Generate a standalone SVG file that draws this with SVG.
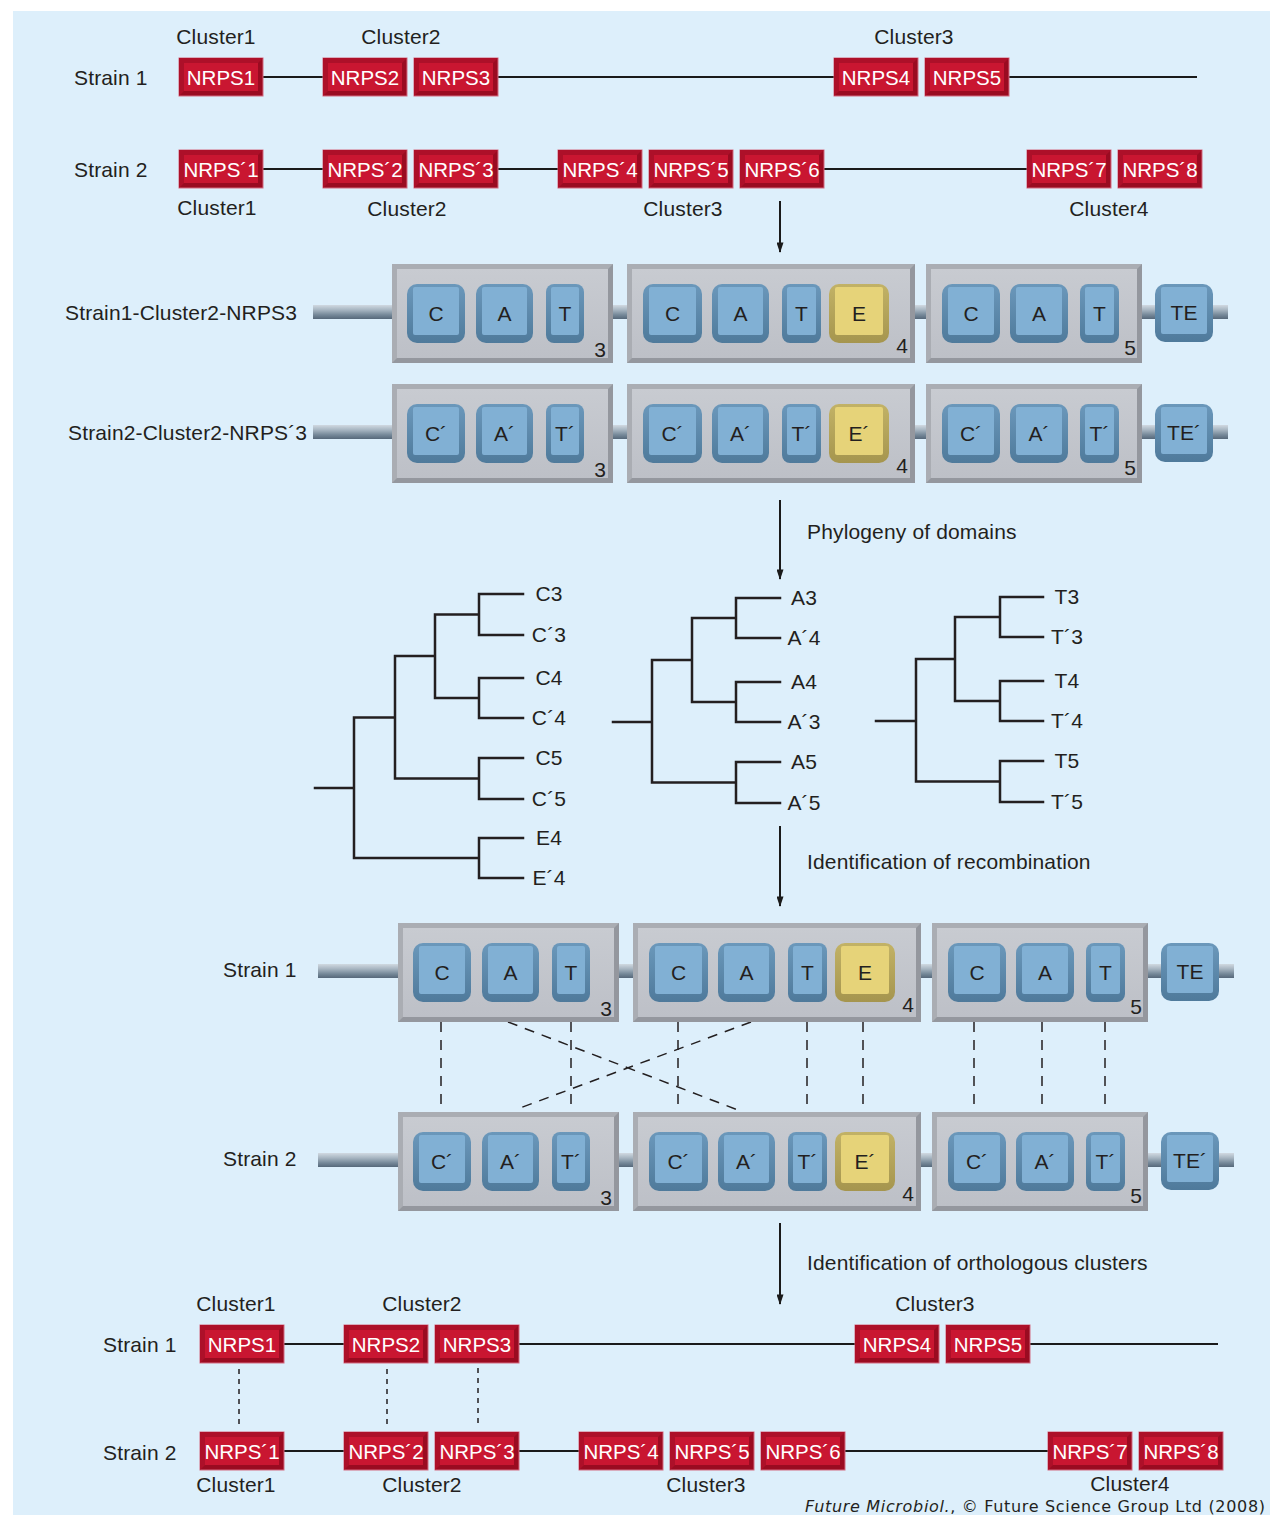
<svg xmlns="http://www.w3.org/2000/svg" width="1277" height="1515" viewBox="0 0 1277 1515">
<defs>
<style>
.lbl{font-family:"Liberation Sans",Arial,sans-serif;font-size:21px;letter-spacing:0.15px;fill:#231f20}
.mid{text-anchor:middle}
.nt{font-family:"Liberation Sans",Arial,sans-serif;font-size:20.5px;fill:#fff;text-anchor:middle}
.dt{font-family:"Liberation Sans",Arial,sans-serif;font-size:21px;fill:#231f20;text-anchor:middle}
.nb{fill:#9a0b21;stroke:#d46a80;stroke-width:1}
.nl{fill:#ad1029}
.nf{fill:#c91631}
.ln{stroke:#1a1a1a;stroke-width:2;fill:none}
.tree{stroke:#231f20;stroke-width:2.5;fill:none;stroke-linecap:square}
.dash{stroke:#231f20;stroke-width:1.5;stroke-dasharray:10 8;fill:none}
.dot{stroke:#231f20;stroke-width:1.5;stroke-dasharray:5 5;fill:none}
.arr{stroke:#1a1a1a;stroke-width:2;fill:none}
.rod{fill:url(#rodg)}
.mb{fill:#94979e}
.mh{fill:#aaadb3}
.mf{fill:url(#faceg)}
.do{fill:url(#blueg)}
.di{fill:#81b0d4}
.eo{fill:url(#yelg)}
.ei{fill:#e6d379}
</style>
<linearGradient id="rodg" x1="0" y1="0" x2="0" y2="1">
<stop offset="0" stop-color="#d0d9e1"/>
<stop offset="0.35" stop-color="#a7b5c1"/>
<stop offset="0.7" stop-color="#768999"/>
<stop offset="1" stop-color="#56687a"/>
</linearGradient>
<linearGradient id="faceg" x1="0" y1="0" x2="0" y2="1">
<stop offset="0" stop-color="#c8cbd1"/>
<stop offset="1" stop-color="#bdc0c7"/>
</linearGradient>
<linearGradient id="blueg" x1="0" y1="0" x2="0" y2="1">
<stop offset="0" stop-color="#6b98bb"/>
<stop offset="1" stop-color="#4f7a9b"/>
</linearGradient>
<linearGradient id="yelg" x1="0" y1="0" x2="0" y2="1">
<stop offset="0" stop-color="#c2b266"/>
<stop offset="1" stop-color="#a5954e"/>
</linearGradient>
<marker id="ah" viewBox="0 0 12 8" refX="11" refY="4" markerWidth="12" markerHeight="7" markerUnits="userSpaceOnUse" orient="auto">
<path d="M0,0L12,4L0,8z" fill="#1a1a1a"/>
</marker>
</defs>

<rect x="0" y="0" width="1277" height="1515" fill="#ffffff"/>
<rect x="13" y="11" width="1257" height="1504" fill="#ddeffb"/>

<!-- connectors -->
<g id="connectors">
<path class="ln" d="M263,77H323M498,77H834M1009,77H1197"/>
<path class="ln" d="M263,169H323M498,169H558M824,169H1027"/>
<path class="ln" d="M284,1344H344M519,1344H855M1030,1344H1218"/>
<path class="ln" d="M284,1451H344M519,1451H579M845,1451H1048"/>
<path class="arr" d="M780,201V252" marker-end="url(#ah)"/>
<path class="arr" d="M780,500V579" marker-end="url(#ah)"/>
<path class="arr" d="M780,826V906" marker-end="url(#ah)"/>
<path class="arr" d="M780,1223V1304" marker-end="url(#ah)"/>
<path class="dash" d="M441,1022V1112M571,1022V1112M678,1022V1112M807,1022V1112M863,1022V1112M974,1022V1112M1042,1022V1112M1105,1022V1112"/>
<path class="dash" d="M508,1022L738,1110M751,1022L520,1108"/>
<path class="dot" d="M239,1369V1427M387,1369V1427M478,1368V1425"/>
</g>

<!-- top texts -->
<g id="top-labels">
<text class="lbl" x="74" y="85">Strain 1</text>
<text class="lbl" x="74" y="177">Strain 2</text>
<text class="lbl mid" x="216" y="44">Cluster1</text>
<text class="lbl mid" x="401" y="44">Cluster2</text>
<text class="lbl mid" x="914" y="44">Cluster3</text>
<text class="lbl mid" x="217" y="215">Cluster1</text>
<text class="lbl mid" x="407" y="216">Cluster2</text>
<text class="lbl mid" x="683" y="216">Cluster3</text>
<text class="lbl mid" x="1109" y="216">Cluster4</text>
</g>

<g id="t-s1-nrps1" transform="translate(179,58)"><rect class="nb" width="84" height="38"/><path class="nl" d="M0,0H84L79,5H5V33L0,38Z"/><rect class="nf" x="5" y="5" width="74" height="28"/><text class="nt" x="42" y="27">NRPS1</text></g>
<g id="t-s1-nrps2" transform="translate(323,58)"><rect class="nb" width="84" height="38"/><path class="nl" d="M0,0H84L79,5H5V33L0,38Z"/><rect class="nf" x="5" y="5" width="74" height="28"/><text class="nt" x="42" y="27">NRPS2</text></g>
<g id="t-s1-nrps3" transform="translate(414,58)"><rect class="nb" width="84" height="38"/><path class="nl" d="M0,0H84L79,5H5V33L0,38Z"/><rect class="nf" x="5" y="5" width="74" height="28"/><text class="nt" x="42" y="27">NRPS3</text></g>
<g id="t-s1-nrps4" transform="translate(834,58)"><rect class="nb" width="84" height="38"/><path class="nl" d="M0,0H84L79,5H5V33L0,38Z"/><rect class="nf" x="5" y="5" width="74" height="28"/><text class="nt" x="42" y="27">NRPS4</text></g>
<g id="t-s1-nrps5" transform="translate(925,58)"><rect class="nb" width="84" height="38"/><path class="nl" d="M0,0H84L79,5H5V33L0,38Z"/><rect class="nf" x="5" y="5" width="74" height="28"/><text class="nt" x="42" y="27">NRPS5</text></g>

<g id="t-s2-nrps1" transform="translate(179,150)"><rect class="nb" width="84" height="38"/><path class="nl" d="M0,0H84L79,5H5V33L0,38Z"/><rect class="nf" x="5" y="5" width="74" height="28"/><text class="nt" x="42" y="27">NRPS´1</text></g>
<g id="t-s2-nrps2" transform="translate(323,150)"><rect class="nb" width="84" height="38"/><path class="nl" d="M0,0H84L79,5H5V33L0,38Z"/><rect class="nf" x="5" y="5" width="74" height="28"/><text class="nt" x="42" y="27">NRPS´2</text></g>
<g id="t-s2-nrps3" transform="translate(414,150)"><rect class="nb" width="84" height="38"/><path class="nl" d="M0,0H84L79,5H5V33L0,38Z"/><rect class="nf" x="5" y="5" width="74" height="28"/><text class="nt" x="42" y="27">NRPS´3</text></g>
<g id="t-s2-nrps4" transform="translate(558,150)"><rect class="nb" width="84" height="38"/><path class="nl" d="M0,0H84L79,5H5V33L0,38Z"/><rect class="nf" x="5" y="5" width="74" height="28"/><text class="nt" x="42" y="27">NRPS´4</text></g>
<g id="t-s2-nrps5" transform="translate(649,150)"><rect class="nb" width="84" height="38"/><path class="nl" d="M0,0H84L79,5H5V33L0,38Z"/><rect class="nf" x="5" y="5" width="74" height="28"/><text class="nt" x="42" y="27">NRPS´5</text></g>
<g id="t-s2-nrps6" transform="translate(740,150)"><rect class="nb" width="84" height="38"/><path class="nl" d="M0,0H84L79,5H5V33L0,38Z"/><rect class="nf" x="5" y="5" width="74" height="28"/><text class="nt" x="42" y="27">NRPS´6</text></g>
<g id="t-s2-nrps7" transform="translate(1027,150)"><rect class="nb" width="84" height="38"/><path class="nl" d="M0,0H84L79,5H5V33L0,38Z"/><rect class="nf" x="5" y="5" width="74" height="28"/><text class="nt" x="42" y="27">NRPS´7</text></g>
<g id="t-s2-nrps8" transform="translate(1118,150)"><rect class="nb" width="84" height="38"/><path class="nl" d="M0,0H84L79,5H5V33L0,38Z"/><rect class="nf" x="5" y="5" width="74" height="28"/><text class="nt" x="42" y="27">NRPS´8</text></g>

<!-- domain rows -->
<text class="lbl" x="65" y="320">Strain1-Cluster2-NRPS3</text>
<text class="lbl" x="68" y="440">Strain2-Cluster2-NRPS´3</text>
<text class="lbl" x="223" y="977">Strain 1</text>
<text class="lbl" x="223" y="1166">Strain 2</text>

<g id="row1" transform="translate(392,264)">
<rect class="rod" x="-79" y="41" width="79" height="14"/><rect class="rod" x="221" y="41" width="14" height="14"/><rect class="rod" x="523" y="41" width="11" height="14"/><rect class="rod" x="750" y="41" width="13" height="14"/><rect class="rod" x="821" y="41" width="15" height="14"/>
<g id="r1-m3"><rect class="mb" x="0" y="0" width="221" height="99"/><path class="mh" d="M0,0H221L216,5H5V94L0,99Z"/><rect class="mf" x="5" y="5" width="211" height="89"/>
<rect class="do" x="15" y="20" width="58" height="59" rx="10"/><rect class="di" x="21" y="23" width="46" height="48" rx="2"/><text class="dt" x="44" y="57">C</text>
<rect class="do" x="84" y="20" width="57" height="59" rx="10"/><rect class="di" x="90" y="23" width="45" height="48" rx="2"/><text class="dt" x="112.5" y="57">A</text>
<rect class="do" x="154" y="20" width="38" height="59" rx="8"/><rect class="di" x="159" y="23" width="28" height="48" rx="2"/><text class="dt" x="173" y="57">T</text>
<text class="dt" x="208" y="93">3</text></g>
<g id="r1-m4"><rect class="mb" x="235" y="0" width="288" height="99"/><path class="mh" d="M235,0H523L518,5H240V94L235,99Z"/><rect class="mf" x="240" y="5" width="278" height="89"/>
<rect class="do" x="251" y="20" width="59" height="59" rx="10"/><rect class="di" x="257" y="23" width="47" height="48" rx="2"/><text class="dt" x="280.5" y="57">C</text>
<rect class="do" x="320" y="20" width="57" height="59" rx="10"/><rect class="di" x="326" y="23" width="45" height="48" rx="2"/><text class="dt" x="348.5" y="57">A</text>
<rect class="do" x="390" y="20" width="39" height="59" rx="8"/><rect class="di" x="395" y="23" width="29" height="48" rx="2"/><text class="dt" x="409.5" y="57">T</text>
<rect class="eo" x="437" y="20" width="60" height="59" rx="10"/><rect class="ei" x="443" y="23" width="48" height="48" rx="2"/><text class="dt" x="467" y="57">E</text>
<text class="dt" x="510" y="89">4</text></g>
<g id="r1-m5"><rect class="mb" x="534" y="0" width="216" height="99"/><path class="mh" d="M534,0H750L745,5H539V94L534,99Z"/><rect class="mf" x="539" y="5" width="206" height="89"/>
<rect class="do" x="550" y="20" width="58" height="59" rx="10"/><rect class="di" x="556" y="23" width="46" height="48" rx="2"/><text class="dt" x="579" y="57">C</text>
<rect class="do" x="618" y="20" width="58" height="59" rx="10"/><rect class="di" x="624" y="23" width="46" height="48" rx="2"/><text class="dt" x="647" y="57">A</text>
<rect class="do" x="688" y="20" width="39" height="59" rx="8"/><rect class="di" x="693" y="23" width="29" height="48" rx="2"/><text class="dt" x="707.5" y="57">T</text>
<text class="dt" x="738" y="91">5</text></g>
<g id="r1-te"><rect class="do" x="763" y="20" width="58" height="58" rx="10"/><rect class="di" x="769" y="23" width="46" height="47" rx="2"/><text class="dt" x="792" y="56">TE</text></g>
</g>

<g id="row2" transform="translate(392,384)">
<rect class="rod" x="-79" y="41" width="79" height="14"/><rect class="rod" x="221" y="41" width="14" height="14"/><rect class="rod" x="523" y="41" width="11" height="14"/><rect class="rod" x="750" y="41" width="13" height="14"/><rect class="rod" x="821" y="41" width="15" height="14"/>
<g id="r2-m3"><rect class="mb" x="0" y="0" width="221" height="99"/><path class="mh" d="M0,0H221L216,5H5V94L0,99Z"/><rect class="mf" x="5" y="5" width="211" height="89"/>
<rect class="do" x="15" y="20" width="58" height="59" rx="10"/><rect class="di" x="21" y="23" width="46" height="48" rx="2"/><text class="dt" x="44" y="57">C´</text>
<rect class="do" x="84" y="20" width="57" height="59" rx="10"/><rect class="di" x="90" y="23" width="45" height="48" rx="2"/><text class="dt" x="112.5" y="57">A´</text>
<rect class="do" x="154" y="20" width="38" height="59" rx="8"/><rect class="di" x="159" y="23" width="28" height="48" rx="2"/><text class="dt" x="173" y="57">T´</text>
<text class="dt" x="208" y="93">3</text></g>
<g id="r2-m4"><rect class="mb" x="235" y="0" width="288" height="99"/><path class="mh" d="M235,0H523L518,5H240V94L235,99Z"/><rect class="mf" x="240" y="5" width="278" height="89"/>
<rect class="do" x="251" y="20" width="59" height="59" rx="10"/><rect class="di" x="257" y="23" width="47" height="48" rx="2"/><text class="dt" x="280.5" y="57">C´</text>
<rect class="do" x="320" y="20" width="57" height="59" rx="10"/><rect class="di" x="326" y="23" width="45" height="48" rx="2"/><text class="dt" x="348.5" y="57">A´</text>
<rect class="do" x="390" y="20" width="39" height="59" rx="8"/><rect class="di" x="395" y="23" width="29" height="48" rx="2"/><text class="dt" x="409.5" y="57">T´</text>
<rect class="eo" x="437" y="20" width="60" height="59" rx="10"/><rect class="ei" x="443" y="23" width="48" height="48" rx="2"/><text class="dt" x="467" y="57">E´</text>
<text class="dt" x="510" y="89">4</text></g>
<g id="r2-m5"><rect class="mb" x="534" y="0" width="216" height="99"/><path class="mh" d="M534,0H750L745,5H539V94L534,99Z"/><rect class="mf" x="539" y="5" width="206" height="89"/>
<rect class="do" x="550" y="20" width="58" height="59" rx="10"/><rect class="di" x="556" y="23" width="46" height="48" rx="2"/><text class="dt" x="579" y="57">C´</text>
<rect class="do" x="618" y="20" width="58" height="59" rx="10"/><rect class="di" x="624" y="23" width="46" height="48" rx="2"/><text class="dt" x="647" y="57">A´</text>
<rect class="do" x="688" y="20" width="39" height="59" rx="8"/><rect class="di" x="693" y="23" width="29" height="48" rx="2"/><text class="dt" x="707.5" y="57">T´</text>
<text class="dt" x="738" y="91">5</text></g>
<g id="r2-te"><rect class="do" x="763" y="20" width="58" height="58" rx="10"/><rect class="di" x="769" y="23" width="46" height="47" rx="2"/><text class="dt" x="792" y="56">TE´</text></g>
</g>

<text class="lbl" x="807" y="539">Phylogeny of domains</text>
<text class="lbl" x="807" y="869">Identification of recombination</text>
<text class="lbl" x="807" y="1270">Identification of orthologous clusters</text>

<!-- trees -->
<g id="tree-c">
<path class="tree" d="M523,594H479V635H523M523,678H479V718H523M523,758H479V799H523M523,838H479V878H523M479,614.5H435V698H479M435,656H395V778.5H479M395,717.5H354V858H479M354,788H315"/>
<text class="lbl mid" x="549" y="601">C3</text><text class="lbl mid" x="549" y="642">C´3</text>
<text class="lbl mid" x="549" y="685">C4</text><text class="lbl mid" x="549" y="725">C´4</text>
<text class="lbl mid" x="549" y="765">C5</text><text class="lbl mid" x="549" y="806">C´5</text>
<text class="lbl mid" x="549" y="845">E4</text><text class="lbl mid" x="549" y="885">E´4</text>
</g>
<g id="tree-a">
<path class="tree" d="M780,598H736V638H780M780,682H736V722H780M780,762H736V803H780M736,618H692V702H736M692,660H652V782.5H736M652,722H613"/>
<text class="lbl mid" x="804" y="605">A3</text><text class="lbl mid" x="804" y="645">A´4</text>
<text class="lbl mid" x="804" y="689">A4</text><text class="lbl mid" x="804" y="729">A´3</text>
<text class="lbl mid" x="804" y="769">A5</text><text class="lbl mid" x="804" y="810">A´5</text>
</g>
<g id="tree-t">
<path class="tree" d="M1043,597H1000V637H1043M1043,681H1000V721H1043M1043,761H1000V802H1043M1000,617H955V701H1000M955,659H916V781.5H1000M916,721H876"/>
<text class="lbl mid" x="1067" y="604">T3</text><text class="lbl mid" x="1067" y="644">T´3</text>
<text class="lbl mid" x="1067" y="688">T4</text><text class="lbl mid" x="1067" y="728">T´4</text>
<text class="lbl mid" x="1067" y="768">T5</text><text class="lbl mid" x="1067" y="809">T´5</text>
</g>

<g id="row3" transform="translate(398,923)">
<rect class="rod" x="-80" y="41" width="80" height="14"/><rect class="rod" x="221" y="41" width="14" height="14"/><rect class="rod" x="523" y="41" width="11" height="14"/><rect class="rod" x="750" y="41" width="13" height="14"/><rect class="rod" x="821" y="41" width="15" height="14"/>
<g id="r3-m3"><rect class="mb" x="0" y="0" width="221" height="99"/><path class="mh" d="M0,0H221L216,5H5V94L0,99Z"/><rect class="mf" x="5" y="5" width="211" height="89"/>
<rect class="do" x="15" y="20" width="58" height="59" rx="10"/><rect class="di" x="21" y="23" width="46" height="48" rx="2"/><text class="dt" x="44" y="57">C</text>
<rect class="do" x="84" y="20" width="57" height="59" rx="10"/><rect class="di" x="90" y="23" width="45" height="48" rx="2"/><text class="dt" x="112.5" y="57">A</text>
<rect class="do" x="154" y="20" width="38" height="59" rx="8"/><rect class="di" x="159" y="23" width="28" height="48" rx="2"/><text class="dt" x="173" y="57">T</text>
<text class="dt" x="208" y="93">3</text></g>
<g id="r3-m4"><rect class="mb" x="235" y="0" width="288" height="99"/><path class="mh" d="M235,0H523L518,5H240V94L235,99Z"/><rect class="mf" x="240" y="5" width="278" height="89"/>
<rect class="do" x="251" y="20" width="59" height="59" rx="10"/><rect class="di" x="257" y="23" width="47" height="48" rx="2"/><text class="dt" x="280.5" y="57">C</text>
<rect class="do" x="320" y="20" width="57" height="59" rx="10"/><rect class="di" x="326" y="23" width="45" height="48" rx="2"/><text class="dt" x="348.5" y="57">A</text>
<rect class="do" x="390" y="20" width="39" height="59" rx="8"/><rect class="di" x="395" y="23" width="29" height="48" rx="2"/><text class="dt" x="409.5" y="57">T</text>
<rect class="eo" x="437" y="20" width="60" height="59" rx="10"/><rect class="ei" x="443" y="23" width="48" height="48" rx="2"/><text class="dt" x="467" y="57">E</text>
<text class="dt" x="510" y="89">4</text></g>
<g id="r3-m5"><rect class="mb" x="534" y="0" width="216" height="99"/><path class="mh" d="M534,0H750L745,5H539V94L534,99Z"/><rect class="mf" x="539" y="5" width="206" height="89"/>
<rect class="do" x="550" y="20" width="58" height="59" rx="10"/><rect class="di" x="556" y="23" width="46" height="48" rx="2"/><text class="dt" x="579" y="57">C</text>
<rect class="do" x="618" y="20" width="58" height="59" rx="10"/><rect class="di" x="624" y="23" width="46" height="48" rx="2"/><text class="dt" x="647" y="57">A</text>
<rect class="do" x="688" y="20" width="39" height="59" rx="8"/><rect class="di" x="693" y="23" width="29" height="48" rx="2"/><text class="dt" x="707.5" y="57">T</text>
<text class="dt" x="738" y="91">5</text></g>
<g id="r3-te"><rect class="do" x="763" y="20" width="58" height="58" rx="10"/><rect class="di" x="769" y="23" width="46" height="47" rx="2"/><text class="dt" x="792" y="56">TE</text></g>
</g>

<g id="row4" transform="translate(398,1112)">
<rect class="rod" x="-80" y="41" width="80" height="14"/><rect class="rod" x="221" y="41" width="14" height="14"/><rect class="rod" x="523" y="41" width="11" height="14"/><rect class="rod" x="750" y="41" width="13" height="14"/><rect class="rod" x="821" y="41" width="15" height="14"/>
<g id="r4-m3"><rect class="mb" x="0" y="0" width="221" height="99"/><path class="mh" d="M0,0H221L216,5H5V94L0,99Z"/><rect class="mf" x="5" y="5" width="211" height="89"/>
<rect class="do" x="15" y="20" width="58" height="59" rx="10"/><rect class="di" x="21" y="23" width="46" height="48" rx="2"/><text class="dt" x="44" y="57">C´</text>
<rect class="do" x="84" y="20" width="57" height="59" rx="10"/><rect class="di" x="90" y="23" width="45" height="48" rx="2"/><text class="dt" x="112.5" y="57">A´</text>
<rect class="do" x="154" y="20" width="38" height="59" rx="8"/><rect class="di" x="159" y="23" width="28" height="48" rx="2"/><text class="dt" x="173" y="57">T´</text>
<text class="dt" x="208" y="93">3</text></g>
<g id="r4-m4"><rect class="mb" x="235" y="0" width="288" height="99"/><path class="mh" d="M235,0H523L518,5H240V94L235,99Z"/><rect class="mf" x="240" y="5" width="278" height="89"/>
<rect class="do" x="251" y="20" width="59" height="59" rx="10"/><rect class="di" x="257" y="23" width="47" height="48" rx="2"/><text class="dt" x="280.5" y="57">C´</text>
<rect class="do" x="320" y="20" width="57" height="59" rx="10"/><rect class="di" x="326" y="23" width="45" height="48" rx="2"/><text class="dt" x="348.5" y="57">A´</text>
<rect class="do" x="390" y="20" width="39" height="59" rx="8"/><rect class="di" x="395" y="23" width="29" height="48" rx="2"/><text class="dt" x="409.5" y="57">T´</text>
<rect class="eo" x="437" y="20" width="60" height="59" rx="10"/><rect class="ei" x="443" y="23" width="48" height="48" rx="2"/><text class="dt" x="467" y="57">E´</text>
<text class="dt" x="510" y="89">4</text></g>
<g id="r4-m5"><rect class="mb" x="534" y="0" width="216" height="99"/><path class="mh" d="M534,0H750L745,5H539V94L534,99Z"/><rect class="mf" x="539" y="5" width="206" height="89"/>
<rect class="do" x="550" y="20" width="58" height="59" rx="10"/><rect class="di" x="556" y="23" width="46" height="48" rx="2"/><text class="dt" x="579" y="57">C´</text>
<rect class="do" x="618" y="20" width="58" height="59" rx="10"/><rect class="di" x="624" y="23" width="46" height="48" rx="2"/><text class="dt" x="647" y="57">A´</text>
<rect class="do" x="688" y="20" width="39" height="59" rx="8"/><rect class="di" x="693" y="23" width="29" height="48" rx="2"/><text class="dt" x="707.5" y="57">T´</text>
<text class="dt" x="738" y="91">5</text></g>
<g id="r4-te"><rect class="do" x="763" y="20" width="58" height="58" rx="10"/><rect class="di" x="769" y="23" width="46" height="47" rx="2"/><text class="dt" x="792" y="56">TE´</text></g>
</g>

<!-- bottom section -->
<g id="bottom-labels">
<text class="lbl" x="103" y="1352">Strain 1</text>
<text class="lbl" x="103" y="1460">Strain 2</text>
<text class="lbl mid" x="236" y="1311">Cluster1</text>
<text class="lbl mid" x="422" y="1311">Cluster2</text>
<text class="lbl mid" x="935" y="1311">Cluster3</text>
<text class="lbl mid" x="236" y="1492">Cluster1</text>
<text class="lbl mid" x="422" y="1492">Cluster2</text>
<text class="lbl mid" x="706" y="1492">Cluster3</text>
<text class="lbl mid" x="1130" y="1491">Cluster4</text>
</g>

<g id="b-s1-nrps1" transform="translate(200,1325)"><rect class="nb" width="84" height="38"/><path class="nl" d="M0,0H84L79,5H5V33L0,38Z"/><rect class="nf" x="5" y="5" width="74" height="28"/><text class="nt" x="42" y="27">NRPS1</text></g>
<g id="b-s1-nrps2" transform="translate(344,1325)"><rect class="nb" width="84" height="38"/><path class="nl" d="M0,0H84L79,5H5V33L0,38Z"/><rect class="nf" x="5" y="5" width="74" height="28"/><text class="nt" x="42" y="27">NRPS2</text></g>
<g id="b-s1-nrps3" transform="translate(435,1325)"><rect class="nb" width="84" height="38"/><path class="nl" d="M0,0H84L79,5H5V33L0,38Z"/><rect class="nf" x="5" y="5" width="74" height="28"/><text class="nt" x="42" y="27">NRPS3</text></g>
<g id="b-s1-nrps4" transform="translate(855,1325)"><rect class="nb" width="84" height="38"/><path class="nl" d="M0,0H84L79,5H5V33L0,38Z"/><rect class="nf" x="5" y="5" width="74" height="28"/><text class="nt" x="42" y="27">NRPS4</text></g>
<g id="b-s1-nrps5" transform="translate(946,1325)"><rect class="nb" width="84" height="38"/><path class="nl" d="M0,0H84L79,5H5V33L0,38Z"/><rect class="nf" x="5" y="5" width="74" height="28"/><text class="nt" x="42" y="27">NRPS5</text></g>

<g id="b-s2-nrps1" transform="translate(200,1432)"><rect class="nb" width="84" height="38"/><path class="nl" d="M0,0H84L79,5H5V33L0,38Z"/><rect class="nf" x="5" y="5" width="74" height="28"/><text class="nt" x="42" y="27">NRPS´1</text></g>
<g id="b-s2-nrps2" transform="translate(344,1432)"><rect class="nb" width="84" height="38"/><path class="nl" d="M0,0H84L79,5H5V33L0,38Z"/><rect class="nf" x="5" y="5" width="74" height="28"/><text class="nt" x="42" y="27">NRPS´2</text></g>
<g id="b-s2-nrps3" transform="translate(435,1432)"><rect class="nb" width="84" height="38"/><path class="nl" d="M0,0H84L79,5H5V33L0,38Z"/><rect class="nf" x="5" y="5" width="74" height="28"/><text class="nt" x="42" y="27">NRPS´3</text></g>
<g id="b-s2-nrps4" transform="translate(579,1432)"><rect class="nb" width="84" height="38"/><path class="nl" d="M0,0H84L79,5H5V33L0,38Z"/><rect class="nf" x="5" y="5" width="74" height="28"/><text class="nt" x="42" y="27">NRPS´4</text></g>
<g id="b-s2-nrps5" transform="translate(670,1432)"><rect class="nb" width="84" height="38"/><path class="nl" d="M0,0H84L79,5H5V33L0,38Z"/><rect class="nf" x="5" y="5" width="74" height="28"/><text class="nt" x="42" y="27">NRPS´5</text></g>
<g id="b-s2-nrps6" transform="translate(761,1432)"><rect class="nb" width="84" height="38"/><path class="nl" d="M0,0H84L79,5H5V33L0,38Z"/><rect class="nf" x="5" y="5" width="74" height="28"/><text class="nt" x="42" y="27">NRPS´6</text></g>
<g id="b-s2-nrps7" transform="translate(1048,1432)"><rect class="nb" width="84" height="38"/><path class="nl" d="M0,0H84L79,5H5V33L0,38Z"/><rect class="nf" x="5" y="5" width="74" height="28"/><text class="nt" x="42" y="27">NRPS´7</text></g>
<g id="b-s2-nrps8" transform="translate(1139,1432)"><rect class="nb" width="84" height="38"/><path class="nl" d="M0,0H84L79,5H5V33L0,38Z"/><rect class="nf" x="5" y="5" width="74" height="28"/><text class="nt" x="42" y="27">NRPS´8</text></g>

<text x="805" y="1512" textLength="460" lengthAdjust="spacing" font-family="'DejaVu Sans',sans-serif" font-size="16" fill="#231f20"><tspan font-style="italic">Future Microbiol.</tspan>, © Future Science Group Ltd (2008)</text>
</svg>
